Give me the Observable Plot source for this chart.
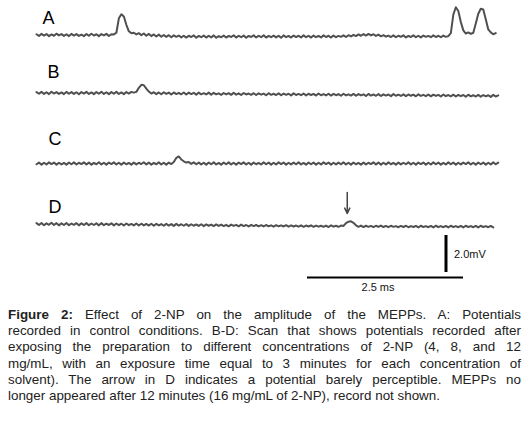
<!DOCTYPE html>
<html><head><meta charset="utf-8">
<script src="https://cdn.jsdelivr.net/npm/d3@7"></script>
<script src="https://cdn.jsdelivr.net/npm/@observablehq/plot@0.6"></script>
<style>
body{margin:0;background:#fff;font-family:"Liberation Sans",Arial,sans-serif;}
#chart{position:absolute;left:0;top:0;width:532px;height:292px;}
#caption{position:absolute;left:8px;top:307px;width:513px;font-size:13.4px;line-height:16.2px;color:#222;}
#caption div{text-align:justify;text-align-last:justify;}
#caption div.last{text-align:left;text-align-last:left;}
</style></head>
<body>
<div id="chart"></div>
<div id="caption">
<div><b>Figure 2:</b> Effect of 2-NP on the amplitude of the MEPPs. A: Potentials</div>
<div>recorded in control conditions. B-D: Scan that shows potentials recorded after</div>
<div>exposing the preparation to different concentrations of 2-NP (4, 8, and 12</div>
<div>mg/mL, with an exposure time equal to 3 minutes for each concentration of</div>
<div>solvent). The arrow in D indicates a potential barely perceptible. MEPPs no</div>
<div class="last">longer appeared after 12 minutes (16 mg/mL of 2-NP), record not shown.</div>
</div>
<script>
// sampling interval of the traces (ms)
const sampleMs = 0.04;
const traceNames = ["A", "B", "C", "D"];
// membrane potential relative to resting level (mV), one value per sample
const traceA = [
 .04,-.05,.06,-.03,.05,-.06,.03,-.04,.07,-.02,
 .05,-.05,.04,-.06,.06,-.03,.05,-.05,.02,-.06,
 .05,-.04,.07,-.03,.04,-.06,.05,-.02,.06,-.05,
 .04,.03,.12,.9,1.12,1.0,.55,.2,.1,.12,
 .03,.1,-.01,.08,-.04,.06,-.06,.03,-.08,.02,
 -.09,.0,-.1,-.01,-.12,-.02,-.1,-.03,-.13,-.04,
 -.14,-.04,-.11,-.02,-.15,-.05,-.12,-.03,-.14,-.04,
 -.13,-.02,-.15,-.06,-.12,-.03,-.14,-.05,-.11,-.02,
 -.14,-.04,-.12,-.03,-.15,-.05,-.11,-.02,-.13,-.04,
 -.12,-.01,-.14,-.05,-.12,-.03,-.13,-.04,-.15,-.02,
 -.12,-.05,-.14,-.03,-.11,-.04,-.13,-.02,-.12,-.04,
 -.14,-.03,-.12,-.05,-.13,-.02,-.11,-.04,-.14,-.03,
 -.12,-.05,-.1,-.02,-.11,-.01,-.08,.01,-.06,.03,
 -.04,.05,-.03,.06,-.02,.04,-.05,.02,-.07,-.01,
 -.09,-.03,-.11,-.02,-.12,-.04,-.1,-.02,-.13,-.05,
 -.11,-.02,-.12,-.04,-.13,-.03,-.1,-.05,-.12,-.02,
 -.11,-.04,-.12,-.03,-.1,-.06,.1,1.1,1.5,1.3,
 .7,.25,.08,.14,.06,.12,.62,1.15,1.42,1.38,
 .85,.3,.14,.04,.1
];
const traceB = [
 .05,-.04,.06,-.05,.04,-.06,.07,-.03,.05,-.05,
 .03,-.06,.06,-.04,.05,-.05,.04,-.07,.05,-.03,
 .06,-.05,.03,-.06,.05,-.04,.07,-.05,.04,-.06,
 .05,-.04,.06,-.05,.03,-.06,.05,-.03,.06,.02,
 .06,.28,.44,.42,.24,.08,-.03,.04,-.06,.03,
 -.07,.04,-.05,.02,-.08,.03,-.06,.01,-.07,.03,
 -.08,.02,-.06,.01,-.09,.02,-.07,-.01,-.08,.02,
 -.09,.01,-.07,-.02,-.1,.0,-.08,-.01,-.1,.01,
 -.09,-.02,-.11,.0,-.08,-.03,-.1,-.01,-.11,-.02,
 -.09,-.03,-.12,-.01,-.1,-.04,-.11,-.02,-.12,-.03,
 -.1,-.04,-.13,-.02,-.11,-.05,-.12,-.03,-.13,-.04,
 -.11,-.05,-.14,-.03,-.12,-.06,-.13,-.04,-.14,-.05,
 -.12,-.06,-.15,-.04,-.13,-.07,-.14,-.05,-.15,-.06,
 -.13,-.07,-.16,-.05,-.14,-.08,-.15,-.06,-.16,-.07,
 -.14,-.08,-.17,-.06,-.15,-.09,-.16,-.07,-.17,-.08,
 -.15,-.09,-.18,-.07,-.16,-.1,-.17,-.08,-.18,-.09,
 -.16,-.1,-.19,-.08,-.17,-.11,-.18,-.09,-.19,-.1,
 -.17,-.11,-.2,-.09,-.18,-.12,-.19,-.1,-.2,-.11,
 -.18,-.12,-.21,-.1,-.19,-.13
];
const traceC = [
 -.04,.05,-.06,.04,-.05,.06,-.03,.05,-.06,.04,
 -.05,.03,-.06,.05,-.04,.06,-.05,.04,-.03,.06,
 -.05,.05,-.06,.03,-.04,.07,-.05,.04,-.06,.05,
 -.03,.06,-.05,.04,-.06,.05,-.04,.03,-.06,.05,
 -.05,.04,-.03,.07,-.05,.05,-.06,.03,-.04,.06,
 -.05,.04,-.06,.05,-.03,.08,.3,.38,.22,.12,
 .05,.08,-.02,.06,-.04,.05,-.05,.04,-.06,.05,
 -.04,.06,-.05,.03,-.06,.05,-.04,.06,-.05,.04,
 -.06,.05,-.03,.06,-.05,.04,-.06,.05,-.04,.03,
 -.05,.06,-.04,.05,-.06,.04,-.05,.06,-.03,.05,
 -.06,.04,-.05,.05,-.04,.06,-.05,.03,-.06,.05,
 -.04,.05,-.06,.04,-.05,.06,-.03,.05,-.06,.04,
 -.05,.05,-.04,.06,-.05,.04,-.06,.05,-.04,.03,
 -.06,.05,-.05,.04,-.03,.06,-.05,.05,-.06,.04,
 -.05,.06,-.04,.03,-.06,.05,-.05,.04,-.04,.06,
 -.05,.04,-.06,.05,-.03,.05,-.06,.04,-.05,.06,
 -.04,.05,-.06,.03,-.05,.06,-.04,.05,-.06,.04,
 -.05,.05,-.03,.06,-.05,.04,-.06,.05,-.04,.05,
 -.06,.04,-.05,.06,-.04,.05
];
const traceD = [
 .1,.0,.11,-.01,.09,.01,.12,.0,.1,-.02,
 .09,.0,.11,-.01,.08,.01,.1,-.02,.09,.0,
 .1,-.01,.08,.0,.09,-.02,.1,-.01,.07,.0,
 .09,-.02,.08,-.01,.07,-.03,.08,-.01,.06,-.02,
 .08,-.03,.07,-.02,.06,-.03,.07,-.04,.06,-.02,
 .05,-.04,.06,-.03,.05,-.05,.06,-.03,.04,-.04,
 .05,-.05,.04,-.04,.03,-.05,.04,-.06,.03,-.04,
 .02,-.06,.03,-.05,.02,-.06,.01,-.07,.02,-.05,
 .01,-.07,.02,-.06,.0,-.08,.01,-.06,.0,-.07,
 -.01,-.08,.0,-.07,-.02,-.09,-.01,-.07,-.02,-.08,
 -.01,-.09,-.02,-.08,-.03,-.09,-.02,-.1,-.03,-.08,
 -.02,-.1,-.03,-.09,-.04,-.1,-.03,-.11,-.02,-.09,
 -.04,-.1,-.03,-.05,.1,.18,.2,.12,-.02,-.1,
 -.03,-.11,-.04,-.1,-.05,-.12,-.04,-.1,-.03,-.11,
 -.05,-.12,-.04,-.1,-.06,-.12,-.05,-.11,-.04,-.12,
 -.06,-.11,-.05,-.13,-.04,-.11,-.06,-.12,-.05,-.13,
 -.04,-.11,-.06,-.12,-.05,-.13,-.04,-.11,-.06,-.12,
 -.05,-.13,-.04,-.11,-.06,-.12,-.05,-.13,-.04,-.11,
 -.06,-.12,-.05,-.13
];
// arrow marks the barely perceptible potential in D
const arrowTrace = "D";
const arrowTimeMs = 4.98;
// calibration bars
const scaleLabels = ["2.0mV", "2.5 ms"];
const scaleValues = [2.0, 2.5];

// ---- layout (px <-> units) ----
const pxPerMs = 62.4, pxPerMv = 18.5;
const W = 532, H = 292;
const x0px = 36, yApx = 34.5;
const traceBasePx = [34.5, 92.5, 163, 224.5];
const offsets = traceBasePx.map(p => (yApx - p) / pxPerMv);
const labelDx = [6, 11, 12, 12];
const labelDy = [-11.5, -15.5, -19, -12.5];
const toT = px => (px - x0px) / pxPerMs;
const toV = px => (yApx - px) / pxPerMv;

const series = [traceA, traceB, traceC, traceD];
const rows = [];
series.forEach((vals, k) => vals.forEach((v, i) => rows.push({trace: traceNames[k], t: i * sampleMs, v: v + offsets[k]})));

const labels = traceNames.map((n, k) => ({name: n, t: labelDx[k] / pxPerMs, v: offsets[k] - labelDy[k] / pxPerMv}));
const kArrow = traceNames.indexOf(arrowTrace);
const arrows = [{t: arrowTimeMs, v1: offsets[kArrow] + 1.76, v2: offsets[kArrow] + 0.62}];

const vBarT = toT(445.5), vBarTop = toV(235);
const hBarV = toV(277), hBarRight = toT(463);
const vBar = [{t: vBarT, v1: vBarTop, v2: vBarTop - scaleValues[0], label: scaleLabels[0]}];
const hBar = [{v: hBarV, t1: hBarRight - scaleValues[1], t2: hBarRight, label: scaleLabels[1]}];

const chart = Plot.plot({
  width: W, height: H, margin: 0,
  style: {background: "transparent", overflow: "visible"},
  x: {domain: [toT(0), toT(W)], range: [0, W], axis: null},
  y: {domain: [toV(H), toV(0)], range: [H, 0], axis: null},
  marks: [
    Plot.line(rows, {x: "t", y: "v", z: "trace", stroke: "#505050", strokeWidth: 2, strokeLinejoin: "round"}),
    Plot.text(labels, {x: "t", y: "v", text: "name", textAnchor: "start", lineAnchor: "bottom", fontSize: 18, fill: "#000", fontFamily: "Liberation Sans, Arial, sans-serif"}),
    Plot.arrow(arrows, {x1: "t", x2: "t", y1: "v1", y2: "v2", stroke: "#444", strokeWidth: 1.5, headLength: 6, headAngle: 50}),
    Plot.ruleX(vBar, {x: "t", y1: "v1", y2: "v2", stroke: "#000", strokeWidth: 3}),
    Plot.text(vBar, {x: "t", y: d => (d.v1 + d.v2) / 2 - 0.04, text: "label", dx: 8, textAnchor: "start", fontSize: 11, fill: "#111", fontFamily: "Liberation Sans, Arial, sans-serif"}),
    Plot.ruleY(hBar, {y: "v", x1: "t1", x2: "t2", stroke: "#000", strokeWidth: 2}),
    Plot.text(hBar, {x: d => (d.t1 + d.t2) / 2 - 0.12, y: "v", text: "label", dy: 10, fontSize: 11, fill: "#111", fontFamily: "Liberation Sans, Arial, sans-serif"})
  ]
});
document.getElementById("chart").appendChild(chart);
</script>
</body></html>
